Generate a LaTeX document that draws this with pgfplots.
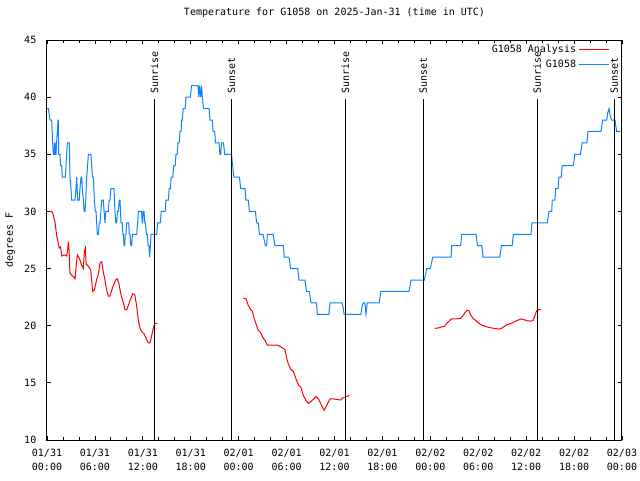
\documentclass[border=0pt]{standalone}
\usepackage{pgfplots}
\pgfplotsset{compat=1.18}
\usepackage{fontspec}
\setmainfont{DejaVu Sans Mono}
\newcommand\gf{\fontsize{7.5}{10.5}\selectfont}
\definecolor{gblue}{RGB}{16,130,255}
\definecolor{gred}{RGB}{255,0,0}
\begin{document}
\begin{tikzpicture}[x=1pt,y=1pt]
\path[use as bounding box, fill=white] (0,0) rectangle (480,360);
\begin{axis}[
  at={(35.25pt,30pt)}, anchor=south west,
  scale only axis, width=431.25pt, height=300pt,
  xmin=0, xmax=72, ymin=10, ymax=45,
  xtick={0,6,...,72},
  minor xtick={2,4,8,10,14,16,20,22,26,28,32,34,38,40,44,46,50,52,56,58,62,64,68,70},
  ytick={10,15,...,45},
  xticklabels={{01/31\\00:00},{01/31\\06:00},{01/31\\12:00},{01/31\\18:00},{02/01\\00:00},{02/01\\06:00},{02/01\\12:00},{02/01\\18:00},{02/02\\00:00},{02/02\\06:00},{02/02\\12:00},{02/02\\18:00},{02/03\\00:00}},
  tick align=inside,
  major tick length=3pt, minor tick length=2pt,
  every tick/.style={black, line width=0.6pt},
  axis line style={line width=0.75pt},
  /pgf/number format/assume math mode=true,
  tick label style={font=\gf},
  xticklabel style={align=center, yshift=-3pt},
  yticklabel style={xshift=-4.5pt},
  title={Temperature for G1058 on 2025-Jan-31 (time in UTC)},
  title style={font=\gf, at={(0.5,1)}, anchor=base, yshift=12.75pt},
  ylabel={degrees F},
  ylabel style={font=\gf, at={(axis description cs:-0.0643,0.5)}, anchor=center},
  legend style={draw=none, fill=none, font=\gf, at={(1,1)}, anchor=north east, xshift=-6pt, yshift=0.5pt, row sep=0pt},
  legend cell align=right, legend plot pos=right,
  legend image code/.code={\draw[#1] (0pt,0pt) -- (22.5pt,0pt);},
]
% Analysis segment 1
\addplot[gred, line width=0.75pt] coordinates {
(0.3,30.0) (0.58,30.0) (0.75,29.8) (0.88,29.4) (1.0,29.1) (1.21,27.9) (1.42,27.2) (1.54,26.8) (1.7,26.9) (1.84,26.1)
(2.2,26.2) (2.46,26.1) (2.6,26.7) (2.67,27.35) (2.75,26.8) (2.88,24.6) (3.09,24.4) (3.3,24.3) (3.51,24.1) (3.63,25.1)
(3.8,26.2) (4.05,25.9) (4.34,25.3) (4.55,25.0) (4.68,26.5) (4.8,26.8) (4.9,25.4) (5.18,25.2) (5.47,24.9) (5.6,23.9)
(5.72,23.0) (5.9,23.1) (6.0,23.3) (6.2,24.0) (6.43,24.5) (6.64,25.5) (6.85,25.6) (7.05,24.7) (7.26,24.0) (7.47,23.1)
(7.68,22.6) (7.89,22.6) (8.1,23.1) (8.3,23.5) (8.6,24.0) (8.8,24.1) (9.0,23.7) (9.27,22.7) (9.56,22.0) (9.77,21.4)
(9.98,21.4) (10.2,21.8) (10.4,22.2) (10.73,22.8) (11.0,22.7) (11.23,21.7) (11.44,20.5) (11.64,19.8) (11.85,19.5)
(12.15,19.3) (12.4,18.9) (12.69,18.5) (12.9,18.5) (13.1,19.1) (13.31,19.8) (13.52,20.2) (13.82,20.2)
};
\addlegendentry{G1058 Analysis}
% Observations
\addplot[gblue, line width=0.75pt] coordinates {
(0.0,39) (0.17,39) (0.38,38) (0.58,38) (0.65,37) (0.71,36) (0.80,35) (0.88,35) (0.95,36) (1.0,36) (1.06,35) (1.13,35)
(1.2,36) (1.29,37) (1.38,38) (1.42,38) (1.46,35) (1.63,35) (1.70,34) (1.84,34) (1.92,33) (2.04,33) (2.30,33) (2.38,34)
(2.46,35) (2.55,36) (2.80,36) (2.85,34) (2.88,33) (3.0,32) (3.09,31) (3.51,31) (3.63,32) (3.72,33) (3.78,32) (3.84,31)
(4.05,31) (4.13,32) (4.26,33) (4.35,33) (4.42,32) (4.55,31) (4.65,30) (4.76,30) (4.85,31) (4.97,33) (5.08,34) (5.18,35)
(5.38,35) (5.5,35) (5.59,34) (5.70,33) (5.80,33) (5.87,32) (5.93,31) (6.05,30) (6.14,30) (6.22,29) (6.30,28) (6.43,28)
(6.55,29) (6.64,29) (6.75,30) (6.85,31) (7.05,31) (7.15,30) (7.26,29) (7.36,30) (7.47,30) (7.68,30) (7.78,31) (7.89,31)
(8.0,32) (8.39,32) (8.45,31) (8.51,30) (8.62,29) (8.72,29) (8.82,30) (8.93,30) (9.05,31) (9.14,31) (9.2,30) (9.27,29)
(9.43,29) (9.50,28) (9.56,28) (9.65,27) (9.73,27) (9.8,28) (9.89,28) (9.98,29) (10.06,29) (10.23,29) (10.3,28) (10.39,28)
(10.5,27) (10.6,27) (10.7,28) (11.23,28) (11.35,29) (11.44,30) (11.85,30) (11.92,29) (11.98,29) (12.05,30) (12.15,30)
(12.25,29) (12.31,29) (12.45,28) (12.56,28) (12.66,27) (12.77,27) (12.84,26) (12.9,26.5) (12.95,27) (13.02,28) (13.73,28)
(13.85,29) (14.2,29) (14.3,30) (14.8,30) (14.9,31) (15.2,31) (15.3,32) (15.45,32) (15.55,33) (15.75,33) (15.85,34)
(16.05,34) (16.15,35) (16.3,35) (16.4,36) (16.55,36) (16.65,37) (16.8,37) (16.85,38) (16.95,38) (17.05,39) (17.3,39)
(17.4,40) (17.95,40) (18.1,41) (18.9,41) (19.0,40) (19.1,41) (19.25,40) (19.35,41) (19.45,40) (19.6,39) (20.3,39)
(20.4,38) (20.7,38) (20.8,37) (21.0,37) (21.1,36) (21.55,36) (21.65,35) (21.75,35) (21.85,36) (22.1,36) (22.25,35)
(22.95,35) (23.1,35) (23.25,34) (23.4,33) (24.1,33) (24.25,32) (24.8,32) (24.9,31) (25.2,31) (25.35,30) (26.1,30)
(26.25,29) (26.45,29) (26.6,28) (27.05,28) (27.2,27.5) (27.35,27) (27.5,27) (27.6,28) (28.3,28) (28.55,27) (29.6,27)
(29.7,26) (30.3,26) (30.5,25) (31.4,25) (31.55,24) (32.3,24) (32.5,23) (32.85,23) (33.06,22) (33.75,22) (33.85,21)
(35.3,21) (35.44,22) (36.95,22) (37.1,21.5) (37.2,21) (39.3,21) (39.45,21.7) (39.6,22) (39.8,22) (39.95,21) (40.1,22)
(41.6,22) (41.8,23) (45.33,23) (45.58,24) (47.25,24) (47.4,24.5) (47.55,25) (48.0,25) (48.3,26) (50.6,26) (50.67,27)
(51.8,27) (51.93,28) (53.72,28) (53.9,27) (54.45,27) (54.6,26) (56.7,26) (56.9,27) (58.25,27) (58.4,28) (60.6,28)
(60.73,29) (62.65,29) (62.86,30) (63.2,30) (63.27,31) (63.6,31) (63.7,32) (64.0,32) (64.1,33) (64.4,33) (64.5,34)
(65.9,34) (66.1,35) (66.8,35) (67.0,36) (67.6,36) (67.75,37) (69.37,37) (69.58,38) (70.1,38) (70.2,38.6) (70.38,39)
(70.5,38.4) (70.7,38) (71.12,38) (71.33,37) (71.75,37)
};
\addlegendentry{G1058}
% Analysis segment 2
\addplot[gred, line width=0.75pt, forget plot] coordinates {
(24.6,22.4) (24.9,22.4) (25.2,21.8) (25.5,21.4) (25.7,21.3) (25.95,20.6) (26.25,20.0) (26.45,19.6) (26.75,19.4)
(27.0,19.0) (27.3,18.7) (27.6,18.3) (28.75,18.3) (29.2,18.2) (29.8,17.9) (30.0,17.2) (30.2,16.7) (30.5,16.2)
(30.85,16.0) (31.15,15.4) (31.5,14.8) (31.8,14.6) (32.1,13.9) (32.4,13.5) (32.7,13.2) (33.1,13.4) (33.7,13.8)
(34.0,13.6) (34.4,13.0) (34.7,12.6) (35.0,13.0) (35.44,13.6) (35.85,13.6) (36.3,13.55) (36.7,13.5) (37.1,13.7)
(37.44,13.8) (37.86,13.9)
};
% Analysis segment 3
\addplot[gred, line width=0.75pt, forget plot] coordinates {
(48.58,19.77) (49.0,19.8) (49.4,19.9) (49.8,19.95) (50.05,20.2) (50.5,20.5) (50.7,20.6) (51.3,20.6) (51.8,20.65)
(52.05,20.85) (52.35,21.15) (52.6,21.35) (52.85,21.3) (53.0,21.0) (53.38,20.6) (53.7,20.45) (54.0,20.27) (54.4,20.06)
(54.85,19.95) (55.5,19.83) (56.1,19.75) (56.7,19.7) (57.1,19.85) (57.5,20.06) (58.1,20.2) (58.8,20.44) (59.4,20.6)
(59.85,20.5) (60.1,20.44) (60.5,20.4) (60.85,20.45) (61.05,20.8) (61.3,21.3) (61.6,21.4) (61.86,21.4)
};
% Sunrise / sunset markers
\addplot[black, line width=0.75pt, forget plot] coordinates {(13.44,10) (13.44,39.8)} node[pos=1, rotate=90, anchor=west, font=\gf, inner sep=4pt] {Sunrise};
\addplot[black, line width=0.75pt, forget plot] coordinates {(23.10,10) (23.10,39.8)} node[pos=1, rotate=90, anchor=west, font=\gf, inner sep=4pt] {Sunset};
\addplot[black, line width=0.75pt, forget plot] coordinates {(37.38,10) (37.38,39.8)} node[pos=1, rotate=90, anchor=west, font=\gf, inner sep=4pt] {Sunrise};
\addplot[black, line width=0.75pt, forget plot] coordinates {(47.12,10) (47.12,39.8)} node[pos=1, rotate=90, anchor=west, font=\gf, inner sep=4pt] {Sunset};
\addplot[black, line width=0.75pt, forget plot] coordinates {(61.39,10) (61.39,39.8)} node[pos=1, rotate=90, anchor=west, font=\gf, inner sep=4pt] {Sunrise};
\addplot[black, line width=0.75pt, forget plot] coordinates {(71.04,10) (71.04,39.8)} node[pos=1, rotate=90, anchor=west, font=\gf, inner sep=4pt] {Sunset};
\end{axis}
\end{tikzpicture}
\end{document}
